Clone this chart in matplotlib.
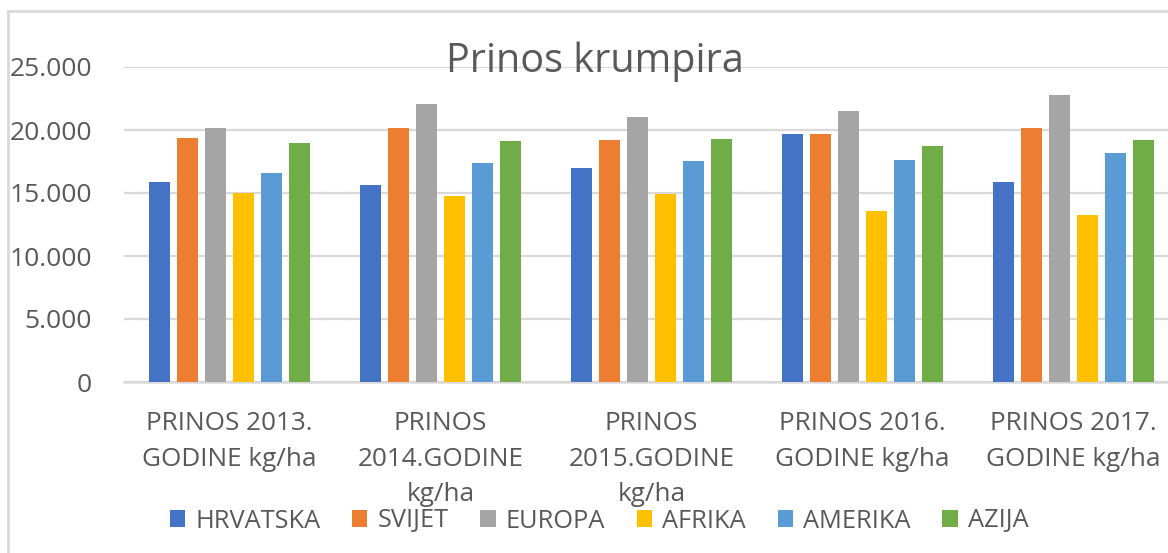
import numpy as np
import matplotlib.pyplot as plt
from matplotlib.patches import Patch
from matplotlib.lines import Line2D

plt.rcParams['font.family'] = ['Open Sans', 'DejaVu Sans']

# podaci
kategorije = ['PRINOS 2013.\nGODINE kg/ha',
              'PRINOS\n2014.GODINE\nkg/ha',
              'PRINOS\n2015.GODINE\nkg/ha',
              'PRINOS 2016.\nGODINE kg/ha',
              'PRINOS 2017.\nGODINE kg/ha']
serije = ['HRVATSKA', 'SVIJET', 'EUROPA', 'AFRIKA', 'AMERIKA', 'AZIJA']
hrvatska = [15900, 15600, 17000, 19700, 15900]
svijet = [19400, 20150, 19200, 19700, 20150]
europa = [20150, 22100, 21000, 21500, 22750]
afrika = [15000, 14750, 14950, 13600, 13250]
amerika = [16550, 17400, 17500, 17600, 18150]
azija = [19000, 19100, 19300, 18700, 19200]
boje = ['#4472C4', '#ED7D31', '#A5A5A5', '#FFC000', '#5B9BD5', '#70AD47']

vrijednosti = [hrvatska, svijet, europa, afrika, amerika, azija]
tekst = '#595959'
mreza = '#D9D9D9'

fig = plt.figure(figsize=(11.68, 5.53), dpi=100)
ax = fig.add_axes([124 / 1168, 1 - 382 / 553, 1055 / 1168, 315 / 553])

x = np.arange(len(kategorije))
korak = 0.1327
sirina = 0.104
for i, (ime, v, c) in enumerate(zip(serije, vrijednosti, boje)):
    ax.bar(x + (i - 2.5) * korak, v, sirina, color=c, label=ime, zorder=3)

ax.set_xlim(-0.5, 4.5)
ax.set_ylim(0, 25000)
ax.set_yticks(np.arange(0, 25001, 5000))
ax.set_yticklabels([f'{int(t):,}'.replace(',', '.') for t in ax.get_yticks()], fontsize=19)
ax.set_xticks(x)
ax.set_xticklabels(kategorije, linespacing=1.55, fontsize=18.8)
ax.grid(axis='y', color=mreza, linewidth=1.6, zorder=0)
for s in ['top', 'right', 'left']:
    ax.spines[s].set_visible(False)
ax.spines['bottom'].set_color(mreza)
ax.spines['bottom'].set_linewidth(1.8)
ax.tick_params(axis='both', length=0, colors=tekst)
ax.tick_params(axis='y', pad=23)
ax.tick_params(axis='x', pad=21)

# okvir grafikona
fig.add_artist(Line2D([8 / 1168, 8 / 1168], [0, 1 - 11 / 553], color=mreza, lw=2))
fig.add_artist(Line2D([8 / 1168, 1], [1 - 11 / 553, 1 - 11 / 553], color=mreza, lw=2))

fig.text(595 / 1168, 1 - 62 / 553, 'Prinos krumpira', ha='center', va='center',
         fontsize=28.5, color=tekst)

ruke = [Patch(facecolor=c, label=s) for s, c in zip(serije, boje)]
leg = fig.legend(handles=ruke, loc='center', bbox_to_anchor=(599 / 1168, 1 - 521 / 553),
                 ncol=6, frameon=False, fontsize=18.3, handlelength=0.6, handleheight=0.6,
                 handletextpad=0.4, columnspacing=1.25)
for t in leg.get_texts():
    t.set_color(tekst)

fig.savefig('out.png', dpi=100)
